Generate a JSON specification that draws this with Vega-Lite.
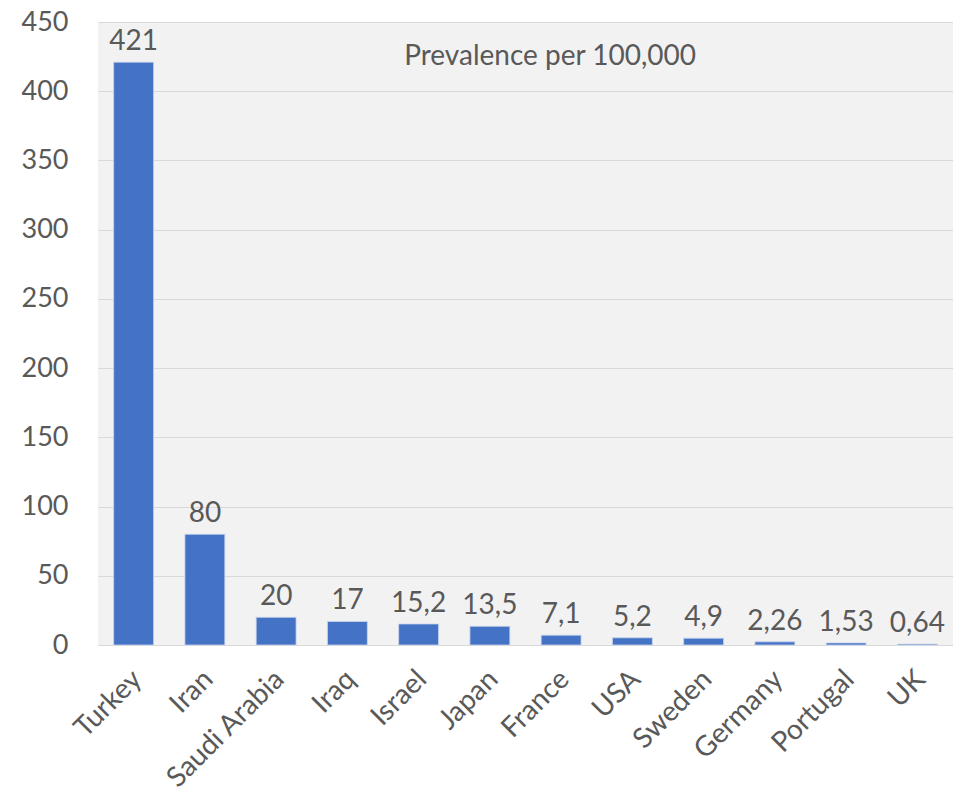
{
  "$schema": "https://vega.github.io/schema/vega-lite/v6.json",
  "width": 855,
  "height": 623,
  "autosize": {"type": "none"},
  "padding": {"left": 98, "top": 22, "right": 0, "bottom": 151},
  "background": "white",
  "config": {
    "view": {"fill": "#f2f2f2", "stroke": null},
    "font": "Lato"
  },
  "datasets": {
    "bars": [
      {"country": "Turkey", "value": 421, "label": "421"},
      {"country": "Iran", "value": 80, "label": "80"},
      {"country": "Saudi Arabia", "value": 20, "label": "20"},
      {"country": "Iraq", "value": 17, "label": "17"},
      {"country": "Israel", "value": 15.2, "label": "15,2"},
      {"country": "Japan", "value": 13.5, "label": "13,5"},
      {"country": "France", "value": 7.1, "label": "7,1"},
      {"country": "USA", "value": 5.2, "label": "5,2"},
      {"country": "Sweden", "value": 4.9, "label": "4,9"},
      {"country": "Germany", "value": 2.26, "label": "2,26"},
      {"country": "Portugal", "value": 1.53, "label": "1,53"},
      {"country": "UK", "value": 0.64, "label": "0,64"}
    ],
    "notes": [
      {"country": "France", "value": 419, "note": "Prevalence per 100,000"}
    ]
  },
  "encoding": {
    "x": {
      "field": "country",
      "type": "nominal",
      "sort": null,
      "scale": {"paddingInner": 0.44, "paddingOuter": 0.22},
      "axis": {
        "title": null,
        "labelAngle": -45,
        "labelFont": "Lato",
        "labelFontSize": 28,
        "labelColor": "#595959",
        "labelPadding": 20,
        "labelOffset": -6,
        "ticks": false,
        "domain": true,
        "domainColor": "#d9d9d9",
        "domainWidth": 1
      }
    },
    "y": {
      "field": "value",
      "type": "quantitative",
      "scale": {"domain": [0, 450], "nice": false},
      "axis": {
        "title": null,
        "values": [0, 50, 100, 150, 200, 250, 300, 350, 400, 450],
        "labelFont": "Lato",
        "labelFontSize": 27,
        "labelColor": "#595959",
        "labelPadding": 30,
        "ticks": false,
        "domain": false,
        "grid": true,
        "gridColor": "#d9d9d9",
        "gridWidth": 1
      }
    }
  },
  "layer": [
    {
      "data": {"name": "bars"},
      "mark": {"type": "bar", "color": "#4472c4", "stroke": "#c9d6ee", "strokeWidth": 0.8}
    },
    {
      "data": {"name": "bars"},
      "mark": {"type": "text", "baseline": "alphabetic", "dy": -12, "font": "Lato", "fontSize": 28, "color": "#595959"},
      "encoding": {"text": {"field": "label"}}
    },
    {
      "data": {"name": "notes"},
      "mark": {"type": "text", "baseline": "alphabetic", "align": "center", "dx": -11, "font": "Lato", "fontSize": 28, "color": "#595959"},
      "encoding": {
        "text": {"field": "note"}
      }
    }
  ]
}
